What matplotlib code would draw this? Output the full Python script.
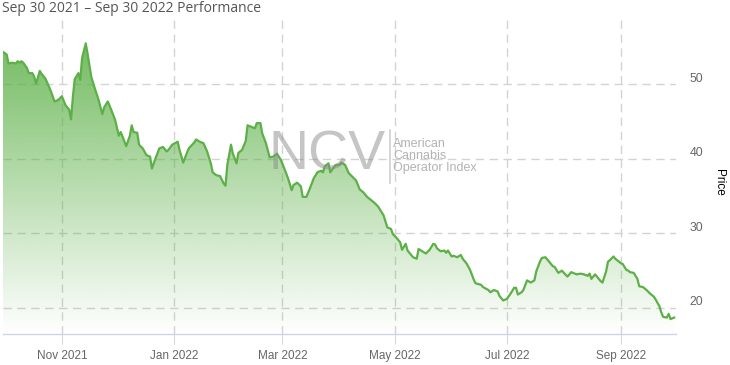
import numpy as np
import pandas as pd
import matplotlib
matplotlib.use("Agg")
import matplotlib.pyplot as plt
import matplotlib.dates as mdates
import matplotlib.transforms as mtransforms

# days after Sep 30 2021, and index price
days = [0, 2, 3, 5, 7, 8, 9, 10, 11, 13, 14, 16, 17, 18, 20, 21, 23, 25, 26, 28,
        30, 32, 34, 36, 37, 38, 39, 41, 42, 43, 45, 46, 48, 50, 52, 54, 55, 57, 59, 61,
        63, 64, 65, 67, 69,
        70, 71, 73, 74, 76, 78, 80, 81, 83, 85, 87, 89, 90, 92, 95, 96, 98, 100, 101, 104,
        105, 107, 109, 111, 113, 114, 116, 118, 120, 121, 122, 124, 125, 127, 128, 130,
        132, 133, 134, 137, 138, 140, 141, 143,
        145, 147, 149, 151, 153, 155, 157, 158, 160, 162, 163, 165, 167, 169, 171, 173,
        174, 175, 177, 178, 180, 181, 183, 184, 186, 188, 190, 192, 193, 194, 196, 198,
        200, 202, 204, 205, 207, 209, 211, 212, 214,
        216, 217, 219, 220, 221, 223, 225, 226, 228, 230, 232, 234, 235, 236, 238, 240,
        241, 242, 244, 245, 247, 249, 250, 252, 254, 256, 257, 260, 261, 264, 265, 267,
        269, 270, 272, 274, 276, 278, 279, 280, 282, 283, 285,
        287, 289, 290, 292, 293, 295, 297, 299, 300, 302, 304, 305, 307, 309, 310, 312,
        314, 316, 318, 319, 320, 322, 323, 325, 326, 328, 329, 330, 332, 333, 334, 336,
        337, 339, 340, 341, 343, 345, 346, 348, 350, 352, 354, 355, 357, 358, 359, 361,
        362, 363, 365]
prices = [54.35, 54.0, 52.8, 52.9, 52.8, 53.1, 52.9, 53.1, 52.9, 52.2, 51.5, 51.5, 51.0,
          50.1, 51.8, 51.4, 50.8, 49.7, 49.1, 47.7, 47.9, 48.4, 47.2, 46.6, 45.3, 48.3,
          50.7, 51.5, 50.6, 53.5, 55.5, 54.1, 51.0, 49.4, 47.9, 46.0, 46.9, 47.7, 46.5,
          45.2, 43.1, 43.6, 43.0, 41.7, 43.1,
          44.5, 43.6, 43.5, 41.9, 41.4, 40.5, 40.3, 38.7, 40.1, 41.4, 41.6, 41.0, 41.2,
          41.9, 42.3, 41.2, 39.5, 40.8, 41.4, 42.2, 42.6, 42.3, 42.1, 41.0, 39.4, 38.2,
          37.8, 37.7, 36.7, 36.4, 39.2, 41.9, 40.7, 39.4, 40.8, 41.2, 42.4, 44.5, 44.4,
          44.1, 44.8, 44.8, 43.4, 42.1,
          40.2, 40.3, 40.7, 39.9, 38.7, 37.4, 35.8, 36.5, 36.8, 36.3, 34.9, 34.9, 36.1,
          37.4, 38.2, 38.4, 38.2, 39.0, 39.4, 38.2, 38.9, 39.2, 39.2, 39.5, 39.2, 38.1,
          37.6, 37.1, 36.5, 35.9, 35.5, 34.9, 34.5, 34.1, 33.6, 33.2, 32.4, 30.8, 30.6,
          29.9, 29.4,
          28.8, 27.8, 28.6, 27.7, 27.4, 26.8, 26.6, 27.9, 27.6, 27.3, 27.8, 28.6, 28.5,
          28.0, 27.6, 27.7, 27.4, 27.7, 26.9, 27.0, 26.8, 27.1, 26.6, 26.0, 25.1, 23.8,
          23.3, 23.1, 22.8, 22.4, 22.1, 22.4, 22.2, 21.6, 21.0, 21.2, 21.9, 22.7, 22.7,
          21.8, 22.1, 22.4, 23.7,
          23.4, 23.7, 24.9, 26.2, 26.7, 26.8, 26.2, 25.6, 25.5, 24.7, 25.0, 24.7, 24.2,
          24.8, 24.7, 24.5, 24.6, 24.5, 24.3, 24.6, 23.9, 24.5, 24.2, 23.6, 23.4, 24.9,
          26.2, 26.4, 26.9, 26.6, 26.4, 26.0, 25.9, 25.1, 25.0, 24.8, 24.7, 23.9, 22.9,
          22.8, 22.4, 21.9, 21.5, 21.1, 20.2, 19.4, 18.8, 18.7, 19.2, 18.5, 18.7]

start = pd.Timestamp("2021-09-30")
month_ticks = ["2021-11-01", "2022-01-01", "2022-03-01", "2022-05-01", "2022-07-01", "2022-09-01"]
month_labels = ["Nov 2021", "Jan 2022", "Mar 2022", "May 2022", "Jul 2022", "Sep 2022"]
price_ticks = [20, 30, 40, 50]
title = "Sep 30 2021 \u2013 Sep 30 2022 Performance"

green = "#5cb047"
grid_c = "#d3d3d3"
ymin, ymax = 16.5, 59.3

x = mdates.date2num(start + pd.to_timedelta(days, unit="D"))
y = np.array(prices)

fig = plt.figure(figsize=(7.3, 3.65), dpi=100)
ax = fig.add_axes([3 / 730, 31 / 365, 673 / 730, 319 / 365])

# gradient area under the line
fill = ax.fill_between(x, y, ymin, color="none", lw=0)
rgb = matplotlib.colors.to_rgb(green)
grad = np.zeros((256, 1, 4))
grad[:, 0, :3] = rgb
grad[:, 0, 3] = np.linspace(0.0, 0.85, 256)
img = ax.imshow(grad, extent=[x[0], x[-1], ymin, y.max()], origin="lower",
                aspect="auto", zorder=1)
img.set_clip_path(fill.get_paths()[0], transform=ax.transData)

ax.plot(x, y, color=green, lw=1.6, zorder=3, solid_joinstyle="round")

ax.set_xlim(mdates.date2num(start), mdates.date2num(start) + 366)
ax.set_ylim(ymin, ymax)

xt = mdates.date2num(pd.to_datetime(month_ticks))
ax.set_xticks(xt)
ax.set_xticklabels(month_labels)
ax.set_yticks(price_ticks)
ax.yaxis.tick_right()

for v in xt:
    ax.axvline(v, color=grid_c, lw=1, ls=(0, (6, 4)), zorder=0)
for v in price_ticks:
    ax.axhline(v, color=grid_c, lw=1, ls=(0, (6, 4)), zorder=0)

for s in ["top", "left", "right"]:
    ax.spines[s].set_visible(False)
ax.spines["bottom"].set_color("#ccd6eb")
ax.spines["bottom"].set_linewidth(1)

ax.tick_params(axis="x", length=7.5, width=0.8, color="#d8d8d8", pad=4,
               labelsize=8.5, labelcolor="#666666")
ax.tick_params(axis="y", length=0, pad=10, labelsize=8.7, labelcolor="#666666")
for lab in ax.get_xticklabels() + ax.get_yticklabels():
    lab.set_fontfamily("Liberation Sans")
off = mtransforms.ScaledTranslation(0, 5 / 72, fig.dpi_scale_trans)
for lab in ax.get_yticklabels():
    lab.set_transform(lab.get_transform() + off)

fig.text(725 / 730, 1 - 182 / 365, "Price", rotation=270, ha="right", va="center",
         fontsize=8.5, family="Liberation Sans", color="#000000")

fig.text(2 / 730, 1 - 8 / 365, title, ha="left", va="center", fontsize=10,
         family="Open Sans", color="#555555")

# NCV watermark
fig.text(327 / 730, 1 - 156 / 365, "NCV", ha="center", va="center", fontsize=40,
         family="Liberation Sans", color="#8c8c8c", alpha=0.5, zorder=5)
fig.add_artist(plt.Line2D([390 / 730, 390 / 730], [1 - 130 / 365, 1 - 183 / 365],
                          color="#cfcfcf", lw=1.2))
fig.text(393 / 730, 1 - 156 / 365, "American\nCannabis\nOperator Index", ha="left",
         va="center", fontsize=9, family="Liberation Sans", color="#b3b3b3",
         linespacing=1.0)

fig.savefig("out.png", dpi=100)
